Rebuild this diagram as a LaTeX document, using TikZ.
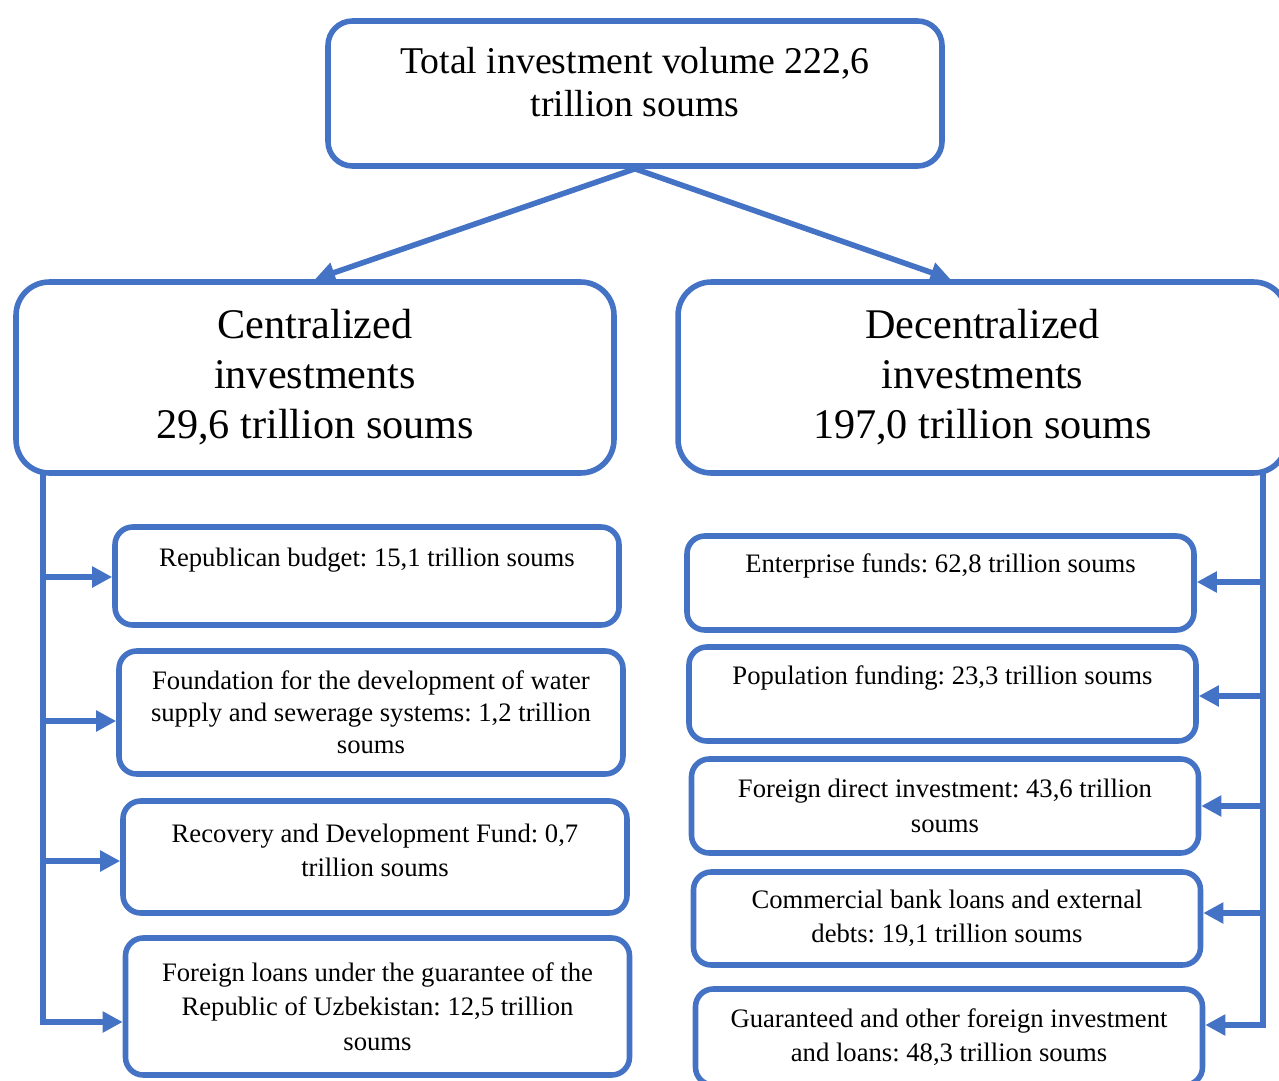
\documentclass[tikz,border=0pt]{standalone}
\usepackage{fontspec}
\setmainfont{Liberation Serif}
\usetikzlibrary{arrows.meta,calc}
\definecolor{flowblue}{HTML}{4472C4}
\newcommand{\padbelow}[1]{\vrule width 0pt height 0pt depth #1\relax}
\frenchspacing

\begin{document}
\begin{tikzpicture}[
    x=0.45pt, y=-0.45pt, >={Triangle[length=9pt,width=9pt]},
    line join=round,
    flow/.style={draw=flowblue, line width=2.5pt},
    topbox/.style={flow, rounded corners=11pt, align=center,
      minimum width=276.3pt, minimum height=65.25pt,
      font=\fontsize{17}{19.4}\selectfont},
    bigbox/.style={flow, rounded corners=15pt, align=center,
      minimum height=85.95pt, font=\fontsize{19}{22.5}\selectfont},
    fundbox/.style={flow, rounded corners=8pt, align=center,
      font=\fontsize{12}{15.5}\selectfont},
    cbox/.style={fundbox, minimum width=226.8pt},
    dbox/.style={fundbox, minimum width=228.15pt},
  ]
  \useasboundingbox (0,0) rectangle (1279,1081);

  % --- total ---
  \node[topbox] (total) at (635,93.5)
    {Total investment volume 222,6\\trillion soums\padbelow{10.8pt}};

  % --- two branches ---
  \node[bigbox, minimum width=269.1pt] (cent) at (315,377.5)
    {Centralized\\investments\\29,6 trillion soums};
  \node[bigbox, minimum width=274pt] (decent) at (982.5,377.5)
    {Decentralized\\investments\\197,0 trillion soums};

  \draw[flow,->] (total.south) -- (cent.north);
  \draw[flow,->] (total.south) -- ($(decent.north)+(-32,0)$);

  % --- centralized sources ---
  \node[cbox, minimum height=44.1pt] (cb1) at (367,576)
    {Republican budget: 15,1 trillion soums\padbelow{17pt}};
  \node[cbox, minimum height=55.35pt, font=\fontsize{12}{14.4}\selectfont] (cb2) at (371,712.5)
    {Foundation for the development of water\\supply and sewerage systems: 1,2 trillion\\soums};
  \node[cbox, minimum height=50.4pt] (cb3) at (375,857)
    {Recovery and Development Fund: 0,7\\trillion soums\padbelow{6.3pt}};
  \node[cbox, minimum height=61.65pt] (cb4) at (377.5,1006.5)
    {Foreign loans under the guarantee of the\\Republic of Uzbekistan: 12,5 trillion\\soums};

  % --- decentralized sources ---
  \node[dbox, minimum height=42.3pt] (db1) at (940.5,583)
    {Enterprise funds: 62,8 trillion soums\padbelow{17.9pt}};
  \node[dbox, minimum height=42.3pt] (db2) at (942.5,694)
    {Population funding: 23,3 trillion soums\padbelow{17pt}};
  \node[dbox, minimum height=42.3pt] (db3) at (945,806)
    {Foreign direct investment: 43,6 trillion\\soums};
  \node[dbox, minimum height=41.85pt] (db4) at (947,918.5)
    {Commercial bank loans and external\\debts: 19,1 trillion soums};
  \node[dbox, minimum height=43.2pt] (db5) at (949,1037)
    {Guaranteed and other foreign investment\\and loans: 48,3 trillion soums};

  % --- trunks and feeders ---
  \coordinate (lfoot) at (43,1022);
  \coordinate (rfoot) at (1263,1025);
  \draw[flow, line cap=rect] (cent.south -| lfoot) -- (lfoot);
  \draw[flow, line cap=rect] (decent.south -| rfoot) -- (rfoot);

  \foreach \b/\dy in {cb1/1, cb2/8.5, cb3/4, cb4/15.5}
    \draw[flow,->] ($(lfoot |- \b.west)+(0,\dy)$) -- ($(\b.west)+(0,\dy)$);
  \foreach \b/\dy in {db1/-1, db2/2, db3/0, db4/-5.5, db5/-12}
    \draw[flow,->] ($(rfoot |- \b.east)+(0,\dy)$) -- ($(\b.east)+(0,\dy)$);
\end{tikzpicture}
\end{document}
